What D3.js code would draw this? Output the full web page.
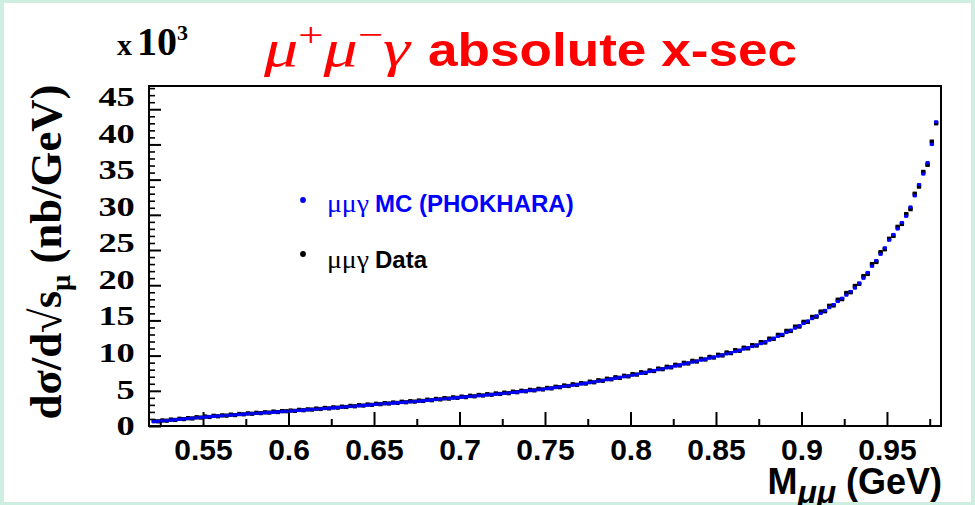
<!DOCTYPE html>
<html>
<head>
<meta charset="utf-8">
<script src="https://cdn.jsdelivr.net/npm/d3@7"></script>
<style>
  html, body { margin: 0; padding: 0; background: #cdeee0; }
  svg { display: block; }
</style>
</head>
<body>
<svg id="chart" width="975" height="505"></svg>
<script>
// Histogram binning of M_mumu (GeV)
const binLow = 0.52;
const binWidth = 0.0025;

// dsigma/dsqrt(s_mu) in units of 10^3 nb/GeV, one value per bin
const mcValues = [
  0.62, 0.67, 0.73, 0.78, 0.84, 0.89, 0.95, 1.00, 1.05, 1.11, 1.16, 1.22,
  1.27, 1.32, 1.36, 1.41, 1.45, 1.50, 1.54, 1.59, 1.63, 1.68,
  1.72, 1.76, 1.80, 1.84, 1.88, 1.92, 1.96, 2.00, 2.04, 2.08,
  2.12, 2.17, 2.21, 2.26, 2.30, 2.35, 2.39, 2.44, 2.48, 2.53,
  2.57, 2.62, 2.67, 2.72, 2.77, 2.82, 2.87, 2.92, 2.97, 3.02,
  3.07, 3.12, 3.16, 3.21, 3.25, 3.30, 3.34, 3.39, 3.43, 3.48,
  3.53, 3.58, 3.64, 3.69, 3.75, 3.80, 3.86, 3.91, 3.97, 4.02,
  4.08, 4.13, 4.19, 4.24, 4.30, 4.35, 4.41, 4.46, 4.52, 4.57,
  4.63, 4.70, 4.76, 4.83, 4.89, 4.96, 5.02, 5.09, 5.15, 5.22,
  5.29, 5.38, 5.46, 5.55, 5.63, 5.72, 5.80, 5.89, 5.97, 6.06,
  6.15, 6.26, 6.36, 6.47, 6.57, 6.68, 6.78, 6.89, 6.99, 7.10,
  7.22, 7.35, 7.48, 7.61, 7.74, 7.87, 8.00, 8.13, 8.26, 8.39,
  8.52, 8.66, 8.80, 8.94, 9.08, 9.22, 9.36, 9.50, 9.64, 9.78,
  9.93, 10.09, 10.25, 10.42, 10.58, 10.75, 10.93, 11.11, 11.30, 11.50,
  11.71, 11.95, 12.20, 12.46, 12.73, 13.01, 13.30, 13.60, 13.91, 14.23,
  14.56, 14.90, 15.26, 15.63, 16.01, 16.41, 16.82, 17.25, 17.69, 18.15,
  18.6, 19.1, 19.6, 20.3, 21.0, 21.8, 22.7, 23.5, 24.4, 25.3,
  26.4, 27.2, 28.0, 28.9, 29.8, 31.1, 32.7, 34.3, 35.8, 37.4,
  40.0, 43.2
];

const dataValues = [
  0.70, 0.66, 0.80, 0.75, 0.92, 0.86, 1.03, 0.98, 1.12, 1.07, 1.25, 1.19,
  1.35, 1.28, 1.45, 1.38, 1.52, 1.47, 1.62, 1.55, 1.71, 1.66,
  1.80, 1.74, 1.88, 1.83, 1.95, 1.90, 2.05, 1.98, 2.12, 2.10,
  2.20, 2.15, 2.30, 2.24, 2.37, 2.33, 2.48, 2.42, 2.57, 2.50,
  2.66, 2.60, 2.75, 2.70, 2.86, 2.80, 2.96, 2.90, 3.06, 3.00,
  3.16, 3.10, 3.25, 3.19, 3.34, 3.28, 3.45, 3.37, 3.53, 3.46,
  3.62, 3.56, 3.74, 3.66, 3.85, 3.78, 3.96, 3.89, 4.07, 4.00,
  4.18, 4.10, 4.30, 4.22, 4.41, 4.33, 4.52, 4.44, 4.63, 4.55,
  4.74, 4.66, 4.88, 4.80, 5.01, 4.93, 5.14, 5.06, 5.28, 5.19,
  5.41, 5.34, 5.58, 5.51, 5.76, 5.68, 5.93, 5.85, 6.10, 6.02,
  6.30, 6.21, 6.50, 6.42, 6.72, 6.63, 6.93, 6.84, 7.14, 7.05,
  7.38, 7.30, 7.64, 7.55, 7.90, 7.81, 8.16, 8.07, 8.42, 8.33,
  8.70, 8.60, 8.98, 8.88, 9.26, 9.15, 9.54, 9.44, 9.82, 9.72,
  10.12, 10.02, 10.45, 10.35, 10.78, 10.68, 11.13, 11.03, 11.50, 11.42,
  11.92, 11.86, 12.42, 12.38, 12.95, 12.92, 13.52, 13.50, 14.12, 14.12,
  14.80, 14.80, 15.50, 15.52, 16.26, 16.30, 17.08, 17.12, 17.95, 18.02,
  18.9, 19.0, 19.9, 20.2, 21.3, 21.6, 23.0, 23.3, 24.7, 25.1,
  26.6, 27.0, 28.3, 28.7, 30.1, 30.8, 33.0, 34.0, 36.1, 37.1,
  40.4, 43.0
];

// Axis ticks
const xMajorTicks = [0.55, 0.6, 0.65, 0.7, 0.75, 0.8, 0.85, 0.9, 0.95];
const xMinorTicks = [0.525, 0.575, 0.625, 0.675, 0.725, 0.775, 0.825, 0.875, 0.925, 0.975];
const yMajorTicks = [0, 5, 10, 15, 20, 25, 30, 35, 40, 45];
const yMinorTicks = [1,2,3,4,6,7,8,9,11,12,13,14,16,17,18,19,21,22,23,24,26,27,28,29,31,32,33,34,36,37,38,39,41,42,43,44,46,47,48];

const serif = "'Liberation Serif', 'Times New Roman', serif";
const sans = "'Liberation Sans', Arial, sans-serif";

const svg = d3.select("#chart");

// white slide area inside the mint border
svg.append("rect").attr("x", 4).attr("y", 3).attr("width", 967).attr("height", 499).attr("fill", "#ffffff");

const plot = { left: 149, right: 941, top: 86, bottom: 426 };
const x = d3.scaleLinear().domain([0.5184, 0.9816]).range([plot.left, plot.right]);
const y = d3.scaleLinear().domain([0, 48.3]).range([plot.bottom, plot.top]);
const yLabel = d3.scaleLinear().domain([0, 45]).range([426, 97]);

// clip for marks
svg.append("defs").append("clipPath").attr("id", "plotClip")
  .append("rect").attr("x", plot.left).attr("y", plot.top)
  .attr("width", plot.right - plot.left).attr("height", plot.bottom - plot.top);

// x axis: major + minor ticks pointing into the frame
const xMajor = svg.append("g").attr("transform", `translate(0,${plot.bottom})`)
  .call(d3.axisBottom(x).tickValues(xMajorTicks).tickSize(-14).tickPadding(13)
    .tickFormat(d => d3.format("")(d)));
xMajor.select(".domain").remove();
xMajor.selectAll("line").attr("stroke", "#000").attr("stroke-width", 2);
xMajor.selectAll("text").attr("font-family", sans).attr("font-weight", "bold")
  .attr("font-size", 30).attr("fill", "#000");

const xMinor = svg.append("g").attr("transform", `translate(0,${plot.bottom})`)
  .call(d3.axisBottom(x).tickValues(xMinorTicks).tickSize(-7).tickFormat(""));
xMinor.select(".domain").remove();
xMinor.selectAll("line").attr("stroke", "#000").attr("stroke-width", 2);

// y axis ticks
const yMajor = svg.append("g").attr("transform", `translate(${plot.left},0)`)
  .call(d3.axisLeft(y).tickValues(yMajorTicks).tickSize(-12).tickFormat(""));
yMajor.select(".domain").remove();
yMajor.selectAll("line").attr("stroke", "#000").attr("stroke-width", 2);

const yMinor = svg.append("g").attr("transform", `translate(${plot.left},0)`)
  .call(d3.axisLeft(y).tickValues(yMinorTicks).tickSize(-6).tickFormat(""));
yMinor.select(".domain").remove();
yMinor.selectAll("line").attr("stroke", "#000").attr("stroke-width", 1.6);

// y tick labels
const yLab = svg.append("g").attr("transform", `translate(${plot.left},0)`)
  .call(d3.axisLeft(yLabel).tickValues(yMajorTicks).tickSize(0).tickPadding(14));
yLab.select(".domain").remove();
yLab.selectAll("text").attr("font-family", serif).attr("font-weight", "bold")
  .attr("font-size", 27).attr("fill", "#000")
  .attr("x", -10.5).attr("transform", "scale(1.35,1)");

// data and MC markers
const bins = mcValues.map((v, i) => ({
  lo: binLow + i * binWidth,
  hi: binLow + (i + 1) * binWidth,
  mc: v,
  data: dataValues[i]
}));

const marks = svg.append("g").attr("clip-path", "url(#plotClip)");

function drawSeries(key, color, lineW, size) {
  const g = marks.append("g");
  g.selectAll("line").data(bins).join("line")
    .attr("x1", d => x(d.lo)).attr("x2", d => x(d.hi))
    .attr("y1", d => y(d[key])).attr("y2", d => y(d[key]))
    .attr("stroke", color).attr("stroke-width", lineW);
  g.selectAll("rect").data(bins).join("rect")
    .attr("x", d => x((d.lo + d.hi) / 2) - size / 2)
    .attr("y", d => y(d[key]) - size / 2)
    .attr("width", size).attr("height", size)
    .attr("fill", color);
}
drawSeries("data", "#000000", 2.6, 4.2);
drawSeries("mc", "#0000ff", 2.4, 3.2);

// frame
svg.append("rect").attr("x", plot.left).attr("y", plot.top)
  .attr("width", plot.right - plot.left).attr("height", plot.bottom - plot.top)
  .attr("fill", "none").attr("stroke", "#000").attr("stroke-width", 2);

// legend
const legend = [
  { label: "MC (PHOKHARA)", color: "#0000ff", dotY: 200, baseY: 212 },
  { label: "Data", color: "#000000", dotY: 254, baseY: 268 }
];
legend.forEach(l => {
  svg.append("circle").attr("cx", 303).attr("cy", l.dotY).attr("r", 2.9).attr("fill", l.color);
  svg.append("text").attr("x", 327).attr("y", l.baseY)
    .attr("font-family", serif).attr("font-size", 25).attr("fill", l.color)
    .attr("textLength", 42).attr("lengthAdjust", "spacingAndGlyphs")
    .text("μμγ");
  svg.append("text").attr("x", 375).attr("y", l.baseY)
    .attr("font-family", sans).attr("font-weight", "bold").attr("font-size", 24)
    .attr("fill", l.color).text(l.label);
});

// title
svg.append("text").attr("x", 264).attr("y", 66)
  .attr("font-family", serif).attr("font-style", "italic").attr("font-size", 52)
  .attr("fill", "#ff0000").attr("textLength", 146).attr("lengthAdjust", "spacingAndGlyphs")
  .call(t => {
    t.append("tspan").text("μ");
    t.append("tspan").attr("font-size", 34).attr("font-style", "normal").attr("dy", -20).text("+");
    t.append("tspan").attr("dy", 20).text("μ");
    t.append("tspan").attr("font-size", 34).attr("font-style", "normal").attr("dy", -20).text("−");
    t.append("tspan").attr("dy", 20).text("γ");
  });
svg.append("text").attr("x", 428).attr("y", 66)
  .attr("font-family", sans).attr("font-weight", "bold").attr("font-size", 46)
  .attr("fill", "#ff0000").attr("textLength", 369).attr("lengthAdjust", "spacingAndGlyphs")
  .text("absolute x-sec");

// exponent marker
svg.append("text").attr("x", 117).attr("y", 55).attr("font-family", serif).attr("fill", "#000")
  .call(t => {
    t.append("tspan").attr("font-size", 30).attr("font-weight", "bold").text("x");
    t.append("tspan").attr("font-size", 40).attr("font-weight", "bold").attr("dx", 5).text("10");
    t.append("tspan").attr("font-size", 22).attr("font-weight", "bold").attr("dy", -15).text("3");
  });

// y axis title
svg.append("text").attr("transform", "translate(61,252) rotate(-90)")
  .attr("text-anchor", "middle").attr("font-family", serif).attr("font-weight", "bold")
  .attr("font-size", 44).attr("fill", "#000")
  .attr("textLength", 335).attr("lengthAdjust", "spacingAndGlyphs")
  .call(t => {
    t.append("tspan").text("dσ/d√s");
    t.append("tspan").attr("font-size", 28).attr("dy", 9).text("μ");
    t.append("tspan").attr("dy", -9).text(" (nb/GeV)");
  });

// x axis title
svg.append("text").attr("x", 942).attr("y", 494).attr("text-anchor", "end")
  .attr("font-family", sans).attr("font-weight", "bold").attr("font-size", 36).attr("fill", "#000")
  .call(t => {
    t.append("tspan").text("M");
    t.append("tspan").attr("font-size", 32).attr("font-style", "italic").attr("dy", 9).text("μμ");
    t.append("tspan").attr("dy", -9).text(" (GeV)");
  });
</script>
</body>
</html>
